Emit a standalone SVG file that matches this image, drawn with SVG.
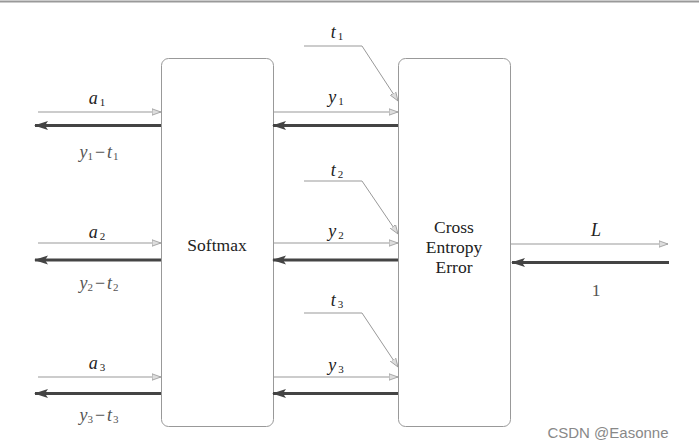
<svg xmlns="http://www.w3.org/2000/svg" width="699" height="448" viewBox="0 0 699 448">
<style>
.box{fill:#fff;stroke:#999;stroke-width:1}
.thin{stroke:#999;stroke-width:1.2;fill:none}
.thick{stroke:#444;stroke-width:3;fill:none}
.tl{stroke:#999;stroke-width:1;fill:none}
text{font-family:"Liberation Serif","DejaVu Serif",serif;fill:#222;text-anchor:middle}
.m{font-style:italic;font-size:18px}
.s{font-size:11px;font-style:normal}
.g{fill:#555}
.n{font-size:17.5px}
</style>
<defs>
<marker id="ah" markerWidth="10" markerHeight="8" refX="9" refY="4" orient="auto" markerUnits="userSpaceOnUse">
<path d="M0,0.8 L9,4 L0,7.2 Z" fill="#ddd" stroke="#999" stroke-width="0.8"/>
</marker>
<marker id="ak" markerWidth="16" markerHeight="10" refX="13" refY="5" orient="auto" markerUnits="userSpaceOnUse">
<path d="M14,5 L0,0.5 L3,5 L0,9.5 Z" fill="#444"/>
</marker>
</defs>
<rect x="0" y="0" width="699" height="448" fill="#fff"/>
<line x1="0" y1="1.5" x2="699" y2="1.5" stroke="#999" stroke-width="2"/>
<g id="softmax">
<rect class="box" x="161.5" y="58.5" width="112" height="368" rx="7"/>
<text class="n" x="217" y="251">Softmax</text>
</g>
<g id="cee">
<rect class="box" x="398.5" y="58.5" width="112" height="368" rx="7"/>
<text class="n" x="454" y="233">Cross</text>
<text class="n" x="454" y="253">Entropy</text>
<text class="n" x="454" y="273">Error</text>
</g>
<g id="connectors">
<line class="thin" x1="38" y1="112" x2="161" y2="112" marker-end="url(#ah)"/>
<line class="thick" x1="161" y1="125.5" x2="35" y2="125.5" marker-end="url(#ak)"/>
<line class="thin" x1="38" y1="243" x2="161" y2="243" marker-end="url(#ah)"/>
<line class="thick" x1="161" y1="260" x2="35" y2="260" marker-end="url(#ak)"/>
<line class="thin" x1="38" y1="377" x2="161" y2="377" marker-end="url(#ah)"/>
<line class="thick" x1="161" y1="393.5" x2="35" y2="393.5" marker-end="url(#ak)"/>
<line class="thin" x1="274" y1="112" x2="398" y2="112" marker-end="url(#ah)"/>
<line class="thick" x1="398" y1="125.5" x2="273" y2="125.5" marker-end="url(#ak)"/>
<line class="thin" x1="274" y1="243" x2="398" y2="243" marker-end="url(#ah)"/>
<line class="thick" x1="398" y1="260" x2="273" y2="260" marker-end="url(#ak)"/>
<line class="thin" x1="274" y1="377" x2="398" y2="377" marker-end="url(#ah)"/>
<line class="thick" x1="398" y1="393.5" x2="273" y2="393.5" marker-end="url(#ak)"/>
<polyline class="tl" points="304,46 362,46 398,101" marker-end="url(#ah)"/>
<polyline class="tl" points="304,181 362,181 398,234" marker-end="url(#ah)"/>
<polyline class="tl" points="304,313 362,313 398,367" marker-end="url(#ah)"/>
<line class="thin" x1="511" y1="244" x2="668" y2="244" marker-end="url(#ah)"/>
<line class="thick" x1="669" y1="262.5" x2="512" y2="262.5" marker-end="url(#ak)"/>
</g>
<g id="labels">
<text class="m" x="97" y="104">a<tspan class="s" dx="2" dy="2">1</tspan></text>
<text class="m g" x="99" y="158">y<tspan class="s" dy="2">1</tspan><tspan dx="2" dy="-2" font-style="normal">−</tspan><tspan dx="2">t</tspan><tspan class="s" dx="1" dy="2">1</tspan></text>
<text class="m" x="97" y="238">a<tspan class="s" dx="2" dy="2">2</tspan></text>
<text class="m g" x="99" y="289">y<tspan class="s" dy="2">2</tspan><tspan dx="2" dy="-2" font-style="normal">−</tspan><tspan dx="2">t</tspan><tspan class="s" dx="1" dy="2">2</tspan></text>
<text class="m" x="97" y="369">a<tspan class="s" dx="2" dy="2">3</tspan></text>
<text class="m g" x="99" y="421">y<tspan class="s" dy="2">3</tspan><tspan dx="2" dy="-2" font-style="normal">−</tspan><tspan dx="2">t</tspan><tspan class="s" dx="1" dy="2">3</tspan></text>
<text class="m" x="336" y="103">y<tspan class="s" dx="2" dy="2">1</tspan></text>
<text class="m" x="336" y="237">y<tspan class="s" dx="2" dy="2">2</tspan></text>
<text class="m" x="336" y="371">y<tspan class="s" dx="2" dy="2">3</tspan></text>
<text class="m" x="337" y="38">t<tspan class="s" dx="2" dy="2">1</tspan></text>
<text class="m" x="337" y="176">t<tspan class="s" dx="2" dy="2">2</tspan></text>
<text class="m" x="337" y="306">t<tspan class="s" dx="2" dy="2">3</tspan></text>
<text class="m" x="596" y="236">L</text>
<text class="n g" x="596" y="296">1</text>
</g>
<text x="608" y="438" style="font-family:'Liberation Sans',Arial,sans-serif;font-size:15px;fill:#888">CSDN @Easonne</text>
</svg>
